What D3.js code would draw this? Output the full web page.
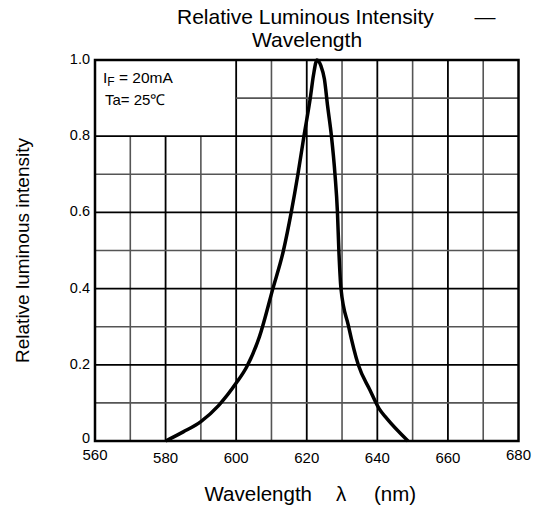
<!DOCTYPE html>
<html>
<head>
<meta charset="utf-8">
<script src="https://cdn.jsdelivr.net/npm/d3@7/dist/d3.min.js"></script>
<style>
  html, body { margin: 0; padding: 0; background: #fff; }
  svg { display: block; font-family: "Liberation Sans", Arial, sans-serif; }
</style>
</head>
<body>
<svg id="chart" width="544" height="510"></svg>
<script>
// Data
const wavelengths = [580, 585, 590, 595, 600, 603, 606.6, 610.4, 613.4, 615.6, 617.5, 619.2, 621.0, 621.9, 622.9, 624.0, 625.0, 625.9, 627.0, 628.0, 628.7, 629.1, 629.7, 631.8, 634.6, 637.9, 640.5, 642.6, 648.7];
const intensity   = [0, 0.024, 0.051, 0.093, 0.152, 0.195, 0.274, 0.4, 0.5, 0.6, 0.7, 0.8, 0.9, 0.96, 1.0, 0.985, 0.95, 0.88, 0.8, 0.7, 0.6, 0.5, 0.4, 0.303, 0.2, 0.134, 0.085, 0.06, 0];
const xTicks = [560, 580, 600, 620, 640, 660, 680];
const yTicks = [0, 0.2, 0.4, 0.6, 0.8, 1.0];
const yTickLabels = ["0", "0.2", "0.4", "0.6", "0.8", "1.0"];
const xGrid = d3.range(570, 680, 10);
const yGrid = d3.range(1, 10).map(d => d / 10);

const svg = d3.select("#chart");
const L = 95, T = 60, W = 423.5, H = 381;
const x = d3.scaleLinear().domain([560, 680]).range([L, L + W]);
const y = d3.scaleLinear().domain([0, 1]).range([T + H, T]);

// inset box area: x < 600, y > 0.8 has no grid
const g = svg.append("g");
xGrid.forEach(v => {
  const major = (v % 20 === 0);
  const top = v < 600 ? y(0.8) : y(1);
  g.append("line")
    .attr("x1", x(v)).attr("x2", x(v))
    .attr("y1", top).attr("y2", y(0))
    .attr("stroke", major ? "#000" : "#555")
    .attr("stroke-width", major ? 1.8 : 1.6);
});
yGrid.forEach(v => {
  const major = Math.round(v * 10) % 2 === 0;
  const left = v > 0.8 ? x(600) : x(560);
  g.append("line")
    .attr("x1", left).attr("x2", x(680))
    .attr("y1", y(v)).attr("y2", y(v))
    .attr("stroke", major ? "#000" : "#555")
    .attr("stroke-width", major ? 1.8 : 1.6);
});

// border
svg.append("rect")
  .attr("x", x(560)).attr("y", y(1))
  .attr("width", x(680) - x(560)).attr("height", y(0) - y(1))
  .attr("fill", "none").attr("stroke", "#000").attr("stroke-width", 2.5);

// curve
const pts = wavelengths.map((w, i) => [w, intensity[i]]);
const line = d3.line().x(d => x(d[0])).y(d => y(d[1])).curve(d3.curveMonotoneX);
svg.append("path").datum(pts)
  .attr("d", line)
  .attr("fill", "none").attr("stroke", "#000")
  .attr("stroke-width", 3.5).attr("stroke-linejoin", "round");

// y tick labels
svg.append("g").selectAll("text").data(yTicks).join("text")
  .attr("x", L - 5)
  .attr("y", d => y(d) + (d === 0 ? 1.5 : 4))
  .attr("text-anchor", "end")
  .attr("font-size", 14.5)
  .text((d, i) => yTickLabels[i]);

// x tick labels
svg.append("g").selectAll("text").data(xTicks).join("text")
  .attr("x", d => x(d))
  .attr("y", d => (d === 560 || d === 680) ? y(0) + 19 : y(0) + 22)
  .attr("text-anchor", "middle")
  .attr("font-size", 15)
  .text(d => d);

// inset text
const inset = svg.append("text").attr("x", 103).attr("y", 83).attr("font-size", 15.5);
inset.append("tspan").text("I");
inset.append("tspan").attr("font-size", 12).attr("dy", 3).text("F");
inset.append("tspan").attr("dy", -3).text(" = 20mA");
svg.append("text").attr("x", 105).attr("y", 105).attr("font-size", 15).text("Ta= 25\u2103");

// title
svg.append("text").attr("x", 177).attr("y", 24).attr("text-anchor", "start")
  .attr("font-size", 21).text("Relative Luminous Intensity");
svg.append("text").attr("x", 485).attr("y", 24).attr("text-anchor", "middle")
  .attr("font-size", 21).text("\u2014");
svg.append("text").attr("x", 307).attr("y", 47).attr("text-anchor", "middle")
  .attr("font-size", 21).text("Wavelength");

// axis titles
svg.append("text").attr("x", 312).attr("y", 501).attr("text-anchor", "end")
  .attr("font-size", 20.5).text("Wavelength");
svg.append("text").attr("x", 341).attr("y", 501).attr("text-anchor", "middle")
  .attr("font-size", 20.5).text("\u03BB");
svg.append("text").attr("x", 374).attr("y", 501).attr("text-anchor", "start")
  .attr("font-size", 20.5).text("(nm)");
svg.append("text")
  .attr("transform", `translate(29, ${T + H / 2}) rotate(-90)`)
  .attr("text-anchor", "middle")
  .attr("font-size", 19)
  .text("Relative luminous intensity");
</script>
</body>
</html>
